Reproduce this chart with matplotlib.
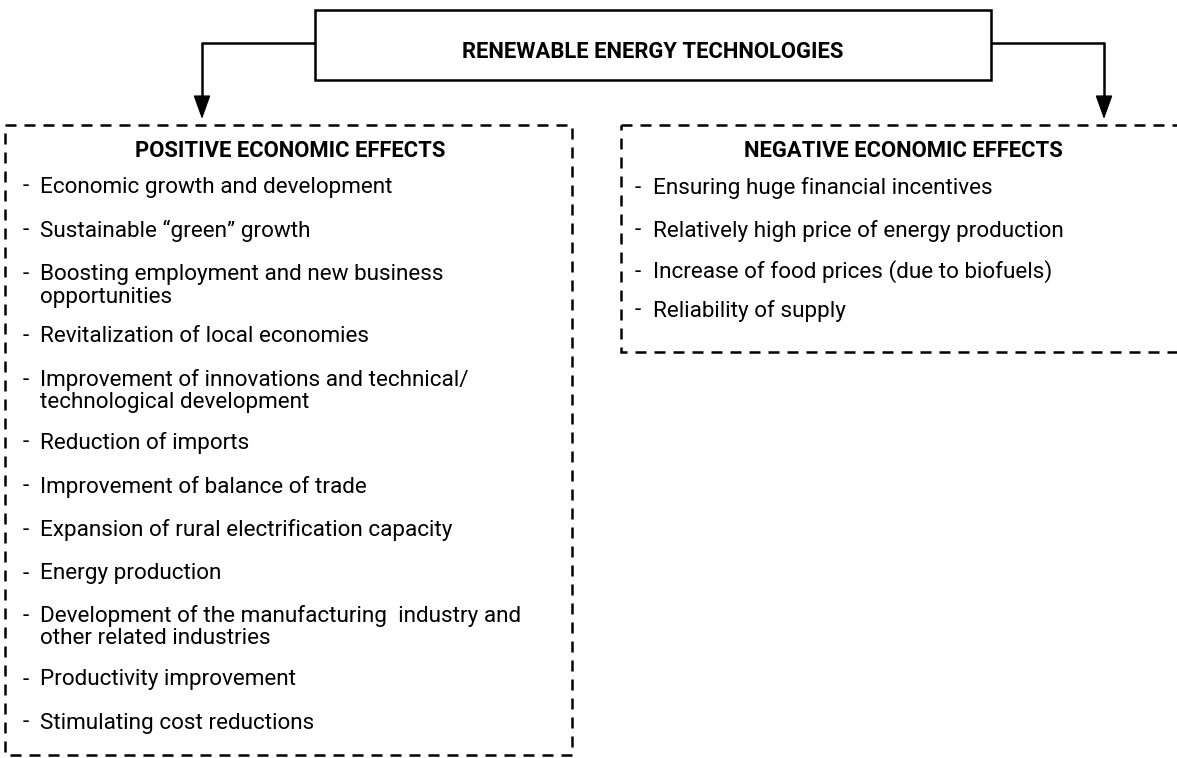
import matplotlib
matplotlib.use("Agg")
import matplotlib.pyplot as plt
from matplotlib.patches import Rectangle, FancyArrowPatch

title = "RENEWABLE ENERGY TECHNOLOGIES"
left_header = "POSITIVE ECONOMIC EFFECTS"
right_header = "NEGATIVE ECONOMIC EFFECTS"
positive_items = [
    "Economic growth and development",
    "Sustainable \u201cgreen\u201d growth",
    "Boosting employment and new business\nopportunities",
    "Revitalization of local economies",
    "Improvement of innovations and technical/\ntechnological development",
    "Reduction of imports",
    "Improvement of balance of trade",
    "Expansion of rural electrification capacity",
    "Energy production",
    "Development of the manufacturing  industry and\nother related industries",
    "Productivity improvement",
    "Stimulating cost reductions",
]
positive_y = [187, 231, 286, 337, 391, 443, 487, 530, 574, 627, 680, 723]
negative_items = [
    "Ensuring huge financial incentives",
    "Relatively high price of energy production",
    "Increase of food prices (due to biofuels)",
    "Reliability of supply",
]
negative_y = [188, 231, 272, 311]

W, H = 1177, 758
fig = plt.figure(figsize=(W / 100, H / 100), dpi=100)
ax = fig.add_axes([0, 0, 1, 1])
ax.set_xlim(0, W)
ax.set_ylim(H, 0)
ax.axis("off")

FONT = "Roboto"
fs = 16.2
hfs = 15.8
LW = 1.8

# top box
ax.add_patch(Rectangle((315, 10), 676, 70, fill=False, lw=LW, ec="black"))
ax.text(653, 52, title, ha="center", va="center", fontsize=hfs, fontweight="bold", family=FONT)

# connectors
ax.plot([315, 202], [43, 43], color="black", lw=LW, solid_capstyle="butt")
ax.plot([991, 1104], [43, 43], color="black", lw=LW, solid_capstyle="butt")
for x in (202, 1104):
    ax.plot([x, x], [42.2, 104], color="black", lw=LW, solid_capstyle="butt")
    ax.add_patch(FancyArrowPatch((x, 102), (x, 119), arrowstyle="-|>,head_length=10,head_width=3.6",
                                 mutation_scale=1.5, color="black", lw=1.0, shrinkA=0, shrinkB=0))

dash = (0, (4.4, 3.2))
# left dashed box
ax.add_patch(Rectangle((5, 125), 567, 630, fill=False, lw=LW, ec="black", ls=dash))
# right dashed box (extends beyond right edge)
ax.add_patch(Rectangle((621, 125), 700, 227, fill=False, lw=LW, ec="black", ls=dash))

ax.text(290, 151, left_header, ha="center", va="center", fontsize=hfs, fontweight="bold", family=FONT)
ax.text(903, 151, right_header, ha="center", va="center", fontsize=hfs, fontweight="bold", family=FONT)

for txt, y in zip(positive_items, positive_y):
    ax.text(23, y - (11 if "\n" in txt else 0), "-", ha="left", va="center", fontsize=fs, family=FONT)
    ax.text(40, y, txt, ha="left", va="center", fontsize=fs, family=FONT, linespacing=1.1)
for txt, y in zip(negative_items, negative_y):
    ax.text(635, y, "-", ha="left", va="center", fontsize=fs, family=FONT)
    ax.text(653, y, txt, ha="left", va="center", fontsize=fs, family=FONT, linespacing=1.1)

fig.savefig("out.png", dpi=100)
